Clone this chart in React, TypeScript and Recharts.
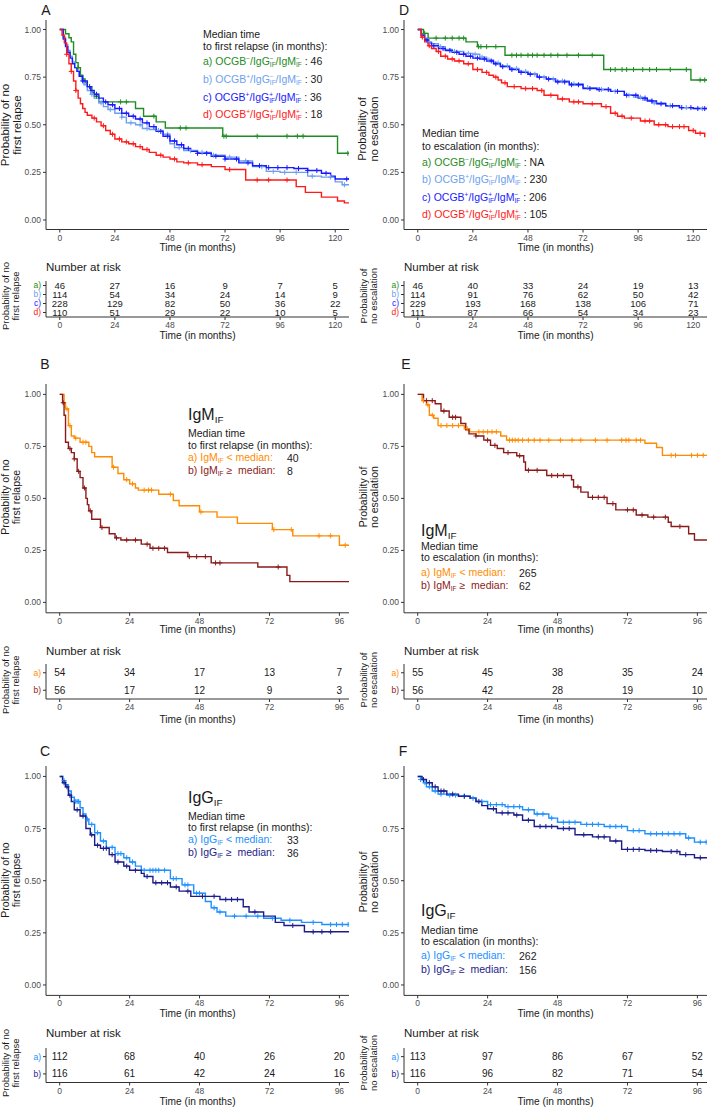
import React from "react";
import { ComposedChart, ScatterChart, Line, Scatter, XAxis, YAxis } from "recharts";

type Step = [number, number];

const GREEN = "#1f8c24";
const LBLUE = "#6d9ff0";
const BLUE = "#1a1aff";
const RED = "#ff1a1a";
const ORANGE = "#ff8c00";
const DRED = "#8b1a1a";
const DODGER = "#1e90ff";
const NAVY = "#1c1c8a";
const INK = "#1a1a1a";

// ---- A: first relapse, 4 groups ----
const stepsAa: Step[] = [[0, 1], [2.5, 0.978], [4, 0.957], [5, 0.935], [6, 0.87], [7, 0.826], [8, 0.8], [9, 0.76], [10, 0.74], [11, 0.72], [12, 0.7], [14, 0.67], [15, 0.65], [17, 0.62], [33, 0.585], [36.5, 0.545], [42, 0.515], [46, 0.483], [71, 0.44], [121, 0.35], [126, 0.35]];
const censAa = [8, 16, 26.5, 29, 41, 52.5, 55, 71.5, 72.5, 86, 99, 103.5, 106, 125.5];
const stepsAb: Step[] = [[0, 1], [1.5, 0.96], [2.5, 0.92], [3.5, 0.89], [4.5, 0.86], [5.5, 0.83], [6.5, 0.8], [7.5, 0.78], [8.5, 0.755], [9.5, 0.73], [10.5, 0.71], [12, 0.68], [13.5, 0.66], [15, 0.64], [17, 0.615], [19, 0.595], [21, 0.58], [24, 0.56], [27, 0.54], [29, 0.51], [33, 0.5], [36, 0.48], [39, 0.475], [42, 0.47], [45, 0.45], [48, 0.4], [50, 0.38], [54, 0.365], [60, 0.355], [66, 0.34], [72, 0.33], [78, 0.31], [84, 0.28], [90, 0.255], [96, 0.25], [108, 0.23], [114, 0.225], [120, 0.2], [123, 0.185], [126, 0.185]];
const censAb = [14, 18, 22, 27, 31, 35, 38, 43, 47, 52, 57, 62, 67, 74, 81, 88, 93, 98, 103, 110, 118, 124];
const stepsAc: Step[] = [[0, 1], [1.5, 0.95], [2.5, 0.91], [3.5, 0.88], [4.5, 0.85], [5.5, 0.82], [6.5, 0.8], [7.5, 0.78], [8.5, 0.755], [10, 0.73], [12, 0.7], [13.5, 0.68], [15, 0.66], [17, 0.64], [19, 0.62], [21, 0.605], [24, 0.585], [27, 0.56], [30, 0.545], [33, 0.53], [36, 0.51], [39, 0.49], [42, 0.465], [45, 0.44], [48, 0.415], [51, 0.395], [54, 0.375], [57, 0.36], [60, 0.35], [66, 0.335], [72, 0.32], [78, 0.3], [84, 0.285], [90, 0.275], [96, 0.275], [102, 0.27], [108, 0.26], [114, 0.245], [118, 0.23], [120, 0.215], [126, 0.21]];
const censAc = [10, 13, 16, 20, 23, 26, 29, 32, 35, 38, 41, 44, 47, 50, 53, 56, 60, 64, 68, 72, 77, 82, 87, 91, 95, 99, 104, 108, 112, 116, 125];
const stepsAd: Step[] = [[0, 1], [1, 0.97], [2, 0.93], [3, 0.87], [4, 0.82], [5, 0.78], [6, 0.73], [7, 0.68], [8, 0.64], [9, 0.61], [10, 0.585], [11, 0.565], [12, 0.55], [14, 0.535], [16, 0.515], [18, 0.495], [20, 0.47], [22, 0.45], [24, 0.425], [27, 0.41], [30, 0.4], [33, 0.385], [36, 0.37], [39, 0.355], [42, 0.34], [45, 0.33], [48, 0.32], [51, 0.305], [54, 0.3], [60, 0.29], [66, 0.28], [72, 0.265], [81, 0.21], [103, 0.175], [107, 0.145], [114, 0.12], [121, 0.1], [124, 0.09], [126, 0.09]];
const censAd = [3, 5, 7, 15, 19, 23, 26, 29, 32, 35, 38, 44, 50, 56, 62, 74, 86, 91, 99];

// ---- D: escalation, 4 groups ----
const stepsDa: Step[] = [[0, 1], [2.5, 0.98], [4.5, 0.955], [21, 0.935], [26, 0.91], [38, 0.865], [81, 0.79], [119, 0.735], [126, 0.735]];
const censDa = [3, 8, 12, 15, 18, 20, 26.5, 27.5, 30, 34, 41, 43, 45, 48, 50, 52, 55, 58, 61, 65, 70, 76, 84, 86, 89, 91, 94, 98, 101, 104, 110, 117, 123, 125];
const stepsDb: Step[] = [[0, 1], [1.5, 0.975], [3, 0.95], [4.5, 0.935], [6, 0.925], [9, 0.91], [12, 0.895], [15, 0.885], [20, 0.875], [24, 0.87], [27, 0.855], [30, 0.84], [33, 0.825], [36, 0.81], [40, 0.795], [44, 0.78], [48, 0.765], [52, 0.75], [56, 0.74], [60, 0.73], [66, 0.715], [72, 0.695], [78, 0.685], [84, 0.675], [90, 0.655], [94, 0.645], [98, 0.63], [102, 0.615], [108, 0.6], [114, 0.59], [120, 0.585], [126, 0.585]];
const censDb = [5, 10, 16, 22, 25, 28, 31, 35, 39, 43, 47, 51, 55, 59, 63, 68, 74, 80, 86, 92, 97, 103, 110, 117, 124];
const stepsDc: Step[] = [[0, 1], [1.5, 0.97], [3, 0.945], [4.5, 0.93], [6, 0.915], [9, 0.9], [12, 0.89], [15, 0.88], [18, 0.87], [21, 0.86], [24, 0.85], [27, 0.845], [30, 0.835], [33, 0.82], [36, 0.805], [40, 0.79], [44, 0.775], [48, 0.765], [52, 0.75], [56, 0.74], [60, 0.725], [66, 0.71], [72, 0.69], [78, 0.685], [84, 0.675], [90, 0.655], [96, 0.64], [100, 0.625], [104, 0.61], [108, 0.6], [114, 0.59], [120, 0.585], [126, 0.585]];
const censDc = [4, 7, 11, 14, 17, 20, 23, 26, 29, 32, 34, 37, 41, 45, 49, 53, 57, 61, 64, 67, 70, 75, 79, 83, 87, 91, 95, 99, 102, 106, 111, 115, 119, 122, 125];
const stepsDd: Step[] = [[0, 1], [1.5, 0.96], [3, 0.935], [4.5, 0.915], [6, 0.9], [8, 0.885], [10, 0.86], [13, 0.845], [16, 0.835], [20, 0.82], [24, 0.79], [28, 0.775], [31, 0.76], [33, 0.75], [35, 0.735], [36.5, 0.72], [39, 0.7], [45, 0.69], [52, 0.68], [55, 0.655], [61, 0.635], [66, 0.62], [72, 0.61], [80, 0.595], [84, 0.56], [87, 0.545], [90, 0.535], [97, 0.52], [103, 0.5], [109, 0.49], [118, 0.47], [121, 0.455], [125, 0.435]];
const censDd = [2, 5, 9, 12, 15, 18, 22, 26, 30, 34, 38, 42, 47, 50, 54, 58, 63, 68, 70, 76, 82, 86, 89, 93, 99, 101, 105, 108, 111, 114, 116, 120, 123];

// ---- B: first relapse by IgM ----
const stepsBa: Step[] = [[0, 1], [1.5, 0.96], [2, 0.93], [3, 0.85], [4, 0.8], [5, 0.79], [7, 0.77], [10, 0.75], [11, 0.72], [12, 0.7], [18, 0.65], [20, 0.62], [22, 0.59], [24, 0.57], [26, 0.55], [27, 0.54], [34, 0.52], [39, 0.49], [41, 0.465], [48, 0.435], [54, 0.41], [61, 0.38], [73, 0.35], [80, 0.32], [96, 0.275], [99.3, 0.275]];
const censBa = [2.5, 3.5, 5.5, 8, 9, 18.5, 23, 25, 29, 30.5, 31.5, 38, 48.5, 73.5, 79.5, 89, 93, 98];
const stepsBb: Step[] = [[0, 1], [1, 0.96], [1.5, 0.9], [2, 0.77], [3, 0.74], [4, 0.72], [5, 0.69], [6, 0.63], [7, 0.6], [8, 0.55], [9, 0.5], [9.5, 0.47], [10, 0.44], [11, 0.4], [14, 0.36], [17, 0.33], [19, 0.31], [21, 0.3], [28, 0.28], [31, 0.26], [37, 0.24], [44, 0.22], [52, 0.19], [68, 0.17], [78, 0.13], [79, 0.1], [99.3, 0.1]];
const censBb = [1.2, 3.5, 5, 6.5, 8.5, 10.5, 14.5, 19.5, 23, 26, 30, 32, 34, 36, 44.5, 47, 50, 53.5, 55, 75];

// ---- E: escalation by IgM ----
const stepsEa: Step[] = [[0, 1], [1.5, 0.97], [3, 0.95], [4, 0.9], [5.5, 0.885], [7, 0.85], [16, 0.835], [17.8, 0.82], [28.5, 0.8], [30.5, 0.78], [78, 0.765], [82, 0.745], [84, 0.707], [99.3, 0.707]];
const censEa = [2, 3.5, 5, 8, 10, 12, 14, 17, 21, 22.5, 24, 25.5, 27, 31.5, 32.5, 33.5, 34.5, 36, 38, 40, 42, 45, 49, 53, 56, 61, 65, 70, 71.5, 72.5, 75, 76.5, 87, 88.5, 94, 96, 98];
const stepsEb: Step[] = [[0, 1], [2, 0.97], [6, 0.955], [8, 0.92], [10.8, 0.89], [14.8, 0.86], [16.5, 0.83], [17.6, 0.81], [20, 0.8], [22.7, 0.78], [25, 0.755], [27.3, 0.74], [29.5, 0.72], [34, 0.705], [36.4, 0.675], [37, 0.635], [44.3, 0.61], [52.8, 0.59], [53.5, 0.555], [56, 0.53], [58.5, 0.505], [65, 0.475], [68, 0.445], [75, 0.42], [79, 0.41], [86, 0.385], [87, 0.365], [93, 0.33], [95, 0.3], [99.3, 0.3]];
const censEb = [3, 5, 9, 12, 13, 20, 24, 26.5, 31, 35, 38, 41, 46, 48, 50, 55, 60, 62, 64, 67, 72, 74, 77, 81, 85, 90];

// ---- C: first relapse by IgG ----
const stepsCa: Step[] = [[0, 1], [1, 0.98], [2, 0.96], [3, 0.93], [4, 0.9], [5, 0.88], [7, 0.85], [8, 0.82], [9, 0.795], [10, 0.77], [12, 0.73], [14, 0.69], [16, 0.66], [19, 0.63], [22, 0.61], [24, 0.59], [26, 0.57], [28, 0.55], [38, 0.51], [42, 0.48], [46, 0.44], [50, 0.4], [52, 0.37], [54, 0.35], [57, 0.33], [70, 0.32], [76, 0.31], [83, 0.3], [90, 0.29], [99.3, 0.29]];
const censCa = [1.5, 5.5, 6, 6.5, 9.5, 11, 13, 15, 18, 20, 21, 23, 25, 29, 31, 32, 33, 34, 36, 39, 40, 43, 44, 47, 48, 53, 55, 60, 64, 68, 73, 79, 87, 93, 95, 97, 99];
const stepsCb: Step[] = [[0, 1], [1, 0.97], [2, 0.95], [3, 0.91], [4, 0.88], [5, 0.84], [7, 0.81], [9, 0.75], [10.5, 0.72], [12, 0.67], [14, 0.655], [17, 0.625], [19, 0.59], [22, 0.57], [24, 0.55], [28, 0.535], [29, 0.52], [32, 0.49], [38, 0.47], [41, 0.45], [45, 0.425], [55, 0.41], [63, 0.375], [65, 0.35], [70, 0.33], [74, 0.3], [77, 0.285], [84, 0.255], [99.3, 0.255]];
const censCb = [1.5, 2.5, 3.5, 6, 8, 11, 13, 15, 16, 18, 20, 23, 26, 30, 33, 35, 37, 40, 44, 49, 53, 57, 59, 61, 67, 80, 87, 90, 93];

// ---- F: escalation by IgG ----
const stepsFa: Step[] = [[0, 1], [1, 0.985], [2, 0.97], [3, 0.95], [5, 0.93], [7, 0.915], [10, 0.91], [14, 0.905], [18, 0.895], [20, 0.88], [24, 0.865], [30, 0.855], [36, 0.84], [40, 0.82], [45, 0.8], [48, 0.78], [56, 0.77], [64, 0.76], [72, 0.74], [78, 0.725], [92, 0.705], [95, 0.685], [99.3, 0.685]];
const censFa = [1, 2.5, 4, 6, 8, 11, 13, 16, 19, 22, 25, 27, 29, 31, 33, 35, 38, 41, 43, 46, 50, 52, 54, 58, 60, 62, 66, 68, 70, 74, 76, 80, 82, 84, 86, 88, 90, 93, 97, 99];
const stepsFb: Step[] = [[0, 1], [1.5, 0.985], [3, 0.97], [5, 0.95], [7, 0.93], [10, 0.915], [14, 0.905], [18, 0.895], [20, 0.88], [22, 0.86], [24, 0.845], [27, 0.825], [33, 0.815], [36, 0.79], [40, 0.76], [48, 0.75], [54, 0.72], [60, 0.71], [66, 0.69], [70, 0.65], [78, 0.645], [84, 0.64], [90, 0.625], [95, 0.61], [99.3, 0.61]];
const censFb = [2, 4, 6, 8, 9, 12, 16, 21, 26, 29, 31, 34, 38, 42, 44, 46, 50, 52, 57, 62, 64, 68, 72, 74, 76, 80, 82, 87, 89, 92, 97];

// ---- number at risk ----
const riskTimes120 = [0, 24, 48, 72, 96, 120];
const riskTimes96 = [0, 24, 48, 72, 96];
const riskAa = [46, 27, 16, 9, 7, 5];
const riskAb = [114, 54, 34, 24, 14, 9];
const riskAc = [228, 129, 82, 50, 36, 22];
const riskAd = [110, 51, 29, 22, 10, 5];
const riskDa = [46, 40, 33, 24, 19, 13];
const riskDb = [114, 91, 76, 62, 50, 42];
const riskDc = [229, 193, 168, 138, 106, 71];
const riskDd = [111, 87, 66, 54, 34, 23];
const riskBa = [54, 34, 17, 13, 7];
const riskBb = [56, 17, 12, 9, 3];
const riskEa = [55, 45, 38, 35, 24];
const riskEb = [56, 42, 28, 19, 10];
const riskCa = [112, 68, 40, 26, 20];
const riskCb = [116, 61, 42, 24, 16];
const riskFa = [113, 97, 86, 67, 52];
const riskFb = [116, 96, 82, 71, 54];

const yTicks = [0, 0.25, 0.5, 0.75, 1];
const tickStyle = { fill: "#4d4d4d", fontSize: 8.5 };

interface Curve {
  steps: Step[];
  censor: number[];
  color: string;
}

function levelAt(steps: Step[], t: number) {
  let s = steps[0][1];
  for (const [tt, v] of steps) {
    if (tt <= t) s = v;
    else break;
  }
  return s;
}

function curveData(c: Curve) {
  const pts = c.steps.map(([t, s]) => ({ t, s, c: false }));
  c.censor.forEach((t) => pts.push({ t, s: levelAt(c.steps, t), c: true }));
  pts.sort((a, b) => a.t - b.t || (a.c ? 1 : -1));
  return pts;
}

function KMChart({ left, top, width, axisW, plotH, xDomain, xTicks, curves }: {
  left: number; top: number; width: number; axisW: number; plotH: number;
  xDomain: [number, number]; xTicks: number[]; curves: Curve[];
}) {
  const mTop = 8;
  const xAxisH = 16;
  return (
    <div style={{ position: "absolute", left, top: top - mTop }}>
      <ComposedChart width={width} height={mTop + plotH + xAxisH} margin={{ top: mTop, right: 2, bottom: 0, left: 0 }}>
        <XAxis type="number" dataKey="t" domain={xDomain} ticks={xTicks} allowDataOverflow height={xAxisH}
          interval={0} tickSize={3} tickMargin={2} tick={tickStyle} stroke="#333" />
        <YAxis type="number" dataKey="s" domain={[-0.05, 1.05]} ticks={yTicks} allowDataOverflow width={axisW}
          interval={0} tickSize={3} tickMargin={2} tick={tickStyle} stroke="#333" tickFormatter={(v: number) => v.toFixed(2)} />
        {curves.map((c, i) => (
          <Line key={i} data={curveData(c)} dataKey="s" type="stepAfter" stroke={c.color} strokeWidth={1.4}
            isAnimationActive={false} activeDot={false}
            dot={(p: any) =>
              p.payload.c ? (
                <path key={p.index} d={`M${p.cx - 2.5},${p.cy}h5M${p.cx},${p.cy - 2.5}v5`} stroke={c.color} strokeWidth={1} />
              ) : (
                <g key={p.index} />
              )
            } />
        ))}
      </ComposedChart>
    </div>
  );
}

interface RiskRow {
  label: string;
  color: string;
  values: number[];
}

function RiskTable({ left, top, width, axisW, plotH, xDomain, times, rows, fontSize }: {
  left: number; top: number; width: number; axisW: number; plotH: number;
  xDomain: [number, number]; times: number[]; rows: RiskRow[]; fontSize: number;
}) {
  const mTop = 2;
  const xAxisH = 16;
  const data = rows.flatMap((r, ri) => times.map((t, i) => ({ t, row: ri + 1, n: r.values[i] })));
  return (
    <div style={{ position: "absolute", left, top: top - mTop }}>
      <ScatterChart width={width} height={mTop + plotH + xAxisH} margin={{ top: mTop, right: 2, bottom: 0, left: 0 }}>
        <XAxis type="number" dataKey="t" domain={xDomain} ticks={times} allowDataOverflow height={xAxisH}
          interval={0} tickSize={3} tickMargin={2} tick={tickStyle} stroke="#333" />
        <YAxis type="number" dataKey="row" domain={[0.5, rows.length + 0.5]} ticks={rows.map((_, i) => i + 1)}
          reversed allowDataOverflow width={axisW} interval={0} tickSize={3} tickMargin={2} stroke="#333"
          tick={(p: any) => {
            const r = rows[p.payload.value - 1];
            return (
              <text x={p.x} y={p.y} dy="0.35em" textAnchor="end" fontSize={8.5} fill={r ? r.color : INK}>
                {r ? r.label : ""}
              </text>
            );
          }} />
        <Scatter data={data} isAnimationActive={false}
          shape={(p: any) => (
            <text x={p.cx} y={p.cy} dy="0.35em" textAnchor="middle" fontSize={fontSize} fill={INK}>
              {p.payload.n}
            </text>
          )} />
      </ScatterChart>
    </div>
  );
}

function Txt({ x, y, size = 10.5, color = INK, anchor = "start", children }: {
  x: number; y: number; size?: number; color?: string; anchor?: string; children: React.ReactNode;
}) {
  const tx = anchor === "middle" ? "-50%" : anchor === "end" ? "-100%" : "0";
  return (
    <div style={{ position: "absolute", left: x, top: y, transform: `translate(${tx}, -50%)`, fontSize: size, color, whiteSpace: "nowrap", lineHeight: 1 }}>
      {children}
    </div>
  );
}

function VLabel({ x, y, size, lines }: { x: number; y: number; size: number; lines: string[] }) {
  return (
    <div style={{ position: "absolute", left: x, top: y, transform: "translate(-50%, -50%) rotate(-90deg)", fontSize: size, lineHeight: 1.05, textAlign: "center", whiteSpace: "nowrap", color: INK }}>
      {lines.map((l) => <div key={l}>{l}</div>)}
    </div>
  );
}

// stacked superscript / subscript as in OCGB+/IgG-IF
function SS({ sup, sub }: { sup: string; sub: string }) {
  return (
    <span style={{ display: "inline-flex", flexDirection: "column", fontSize: "0.62em", lineHeight: 0.95, verticalAlign: "0.72em" }}>
      <span>{sup}</span>
      <span>{sub}</span>
    </span>
  );
}

function Sup({ children }: { children: React.ReactNode }) {
  return <span style={{ fontSize: "0.62em", verticalAlign: "0.72em" }}>{children}</span>;
}

function Sub({ children }: { children: React.ReactNode }) {
  return <span style={{ fontSize: "0.62em", verticalAlign: "-0.25em" }}>{children}</span>;
}

function Group({ o, g, m }: { o: string; g: string; m: string }) {
  return (
    <>
      OCGB<Sup>{o}</Sup>/IgG<SS sup={g} sub="IF" />/IgM<SS sup={m} sub="IF" />
    </>
  );
}

function Val({ children }: { children: React.ReactNode }) {
  return <span style={{ color: INK }}>{children}</span>;
}

const M = "\u2212";

export default function App() {
  const dom120: [number, number] = [-6, 126];
  const dom96: [number, number] = [-4.7, 99.3];
  const relapse = ["Probability of no", "first relapse"];
  const escal = ["Probability of", "no escalation"];
  return (
    <div style={{ position: "absolute", left: 0, top: 0, width: 709, height: 1109, background: "#fff", fontFamily: "'Liberation Sans', Arial, sans-serif", overflow: "hidden" }}>
      {/* panel letters */}
      <Txt x={46} y={10} size={14} anchor="middle">A</Txt>
      <Txt x={404} y={10} size={14} anchor="middle">D</Txt>
      <Txt x={45} y={364} size={14} anchor="middle">B</Txt>
      <Txt x={406} y={364} size={14} anchor="middle">E</Txt>
      <Txt x={45} y={751} size={14} anchor="middle">C</Txt>
      <Txt x={403} y={751} size={14} anchor="middle">F</Txt>

      {/* A */}
      <KMChart left={0} top={19.5} width={351} axisW={46} plotH={209.5} xDomain={dom120} xTicks={riskTimes120}
        curves={[
          { steps: stepsAa, censor: censAa, color: GREEN },
          { steps: stepsAb, censor: censAb, color: LBLUE },
          { steps: stepsAc, censor: censAc, color: BLUE },
          { steps: stepsAd, censor: censAd, color: RED },
        ]} />
      <VLabel x={11} y={125} size={11.5} lines={relapse} />
      <Txt x={197.5} y={248} size={10.2} anchor="middle">Time (in months)</Txt>
      <Txt x={203} y={34}>Median time</Txt>
      <Txt x={203} y={46}>to first relapse (in months):</Txt>
      <Txt x={203} y={62} color={GREEN}>a) <Group o={M} g={M} m={M} /><Val> : 46</Val></Txt>
      <Txt x={203} y={80} color={LBLUE}>b) <Group o="+" g={M} m={M} /><Val> : 30</Val></Txt>
      <Txt x={203} y={98} color={BLUE}>c) <Group o="+" g="+" m={M} /><Val> : 36</Val></Txt>
      <Txt x={203} y={115} color={RED}>d) <Group o="+" g="+" m="+" /><Val> : 18</Val></Txt>
      <Txt x={46} y={268} size={11.5}>Number at risk</Txt>
      <RiskTable left={0} top={281} width={351} axisW={46} plotH={36} xDomain={dom120} times={riskTimes120} fontSize={9.5}
        rows={[
          { label: "a)", color: GREEN, values: riskAa },
          { label: "b)", color: LBLUE, values: riskAb },
          { label: "c)", color: BLUE, values: riskAc },
          { label: "d)", color: RED, values: riskAd },
        ]} />
      <VLabel x={11} y={296} size={9.5} lines={relapse} />
      <Txt x={197.5} y={336} size={10.2} anchor="middle">Time (in months)</Txt>

      {/* D */}
      <KMChart left={354} top={19.5} width={355} axisW={50} plotH={209.5} xDomain={dom120} xTicks={riskTimes120}
        curves={[
          { steps: stepsDa, censor: censDa, color: GREEN },
          { steps: stepsDb, censor: censDb, color: LBLUE },
          { steps: stepsDc, censor: censDc, color: BLUE },
          { steps: stepsDd, censor: censDd, color: RED },
        ]} />
      <VLabel x={369} y={129} size={11} lines={escal} />
      <Txt x={555.5} y={248} size={10.2} anchor="middle">Time (in months)</Txt>
      <Txt x={422} y={133}>Median time</Txt>
      <Txt x={422} y={146}>to escalation (in months):</Txt>
      <Txt x={422} y={163} color={GREEN}>a) <Group o={M} g={M} m={M} /><Val> : NA</Val></Txt>
      <Txt x={422} y={180} color={LBLUE}>b) <Group o="+" g={M} m={M} /><Val> : 230</Val></Txt>
      <Txt x={422} y={198} color={BLUE}>c) <Group o="+" g="+" m={M} /><Val> : 206</Val></Txt>
      <Txt x={422} y={215} color={RED}>d) <Group o="+" g="+" m="+" /><Val> : 105</Val></Txt>
      <Txt x={404} y={268} size={11.5}>Number at risk</Txt>
      <RiskTable left={354} top={281} width={355} axisW={50} plotH={36} xDomain={dom120} times={riskTimes120} fontSize={9.5}
        rows={[
          { label: "a)", color: GREEN, values: riskDa },
          { label: "b)", color: LBLUE, values: riskDb },
          { label: "c)", color: BLUE, values: riskDc },
          { label: "d)", color: RED, values: riskDd },
        ]} />
      <VLabel x={369} y={296} size={9.5} lines={escal} />
      <Txt x={555.5} y={336} size={10.2} anchor="middle">Time (in months)</Txt>

      {/* B */}
      <KMChart left={0} top={383.6} width={351} axisW={46} plotH={228.8} xDomain={dom96} xTicks={riskTimes96}
        curves={[
          { steps: stepsBa, censor: censBa, color: ORANGE },
          { steps: stepsBb, censor: censBb, color: DRED },
        ]} />
      <VLabel x={11} y={497} size={10.5} lines={relapse} />
      <Txt x={197.5} y={630} size={10.2} anchor="middle">Time (in months)</Txt>
      <Txt x={188} y={416} size={16}>IgM<Sub>IF</Sub></Txt>
      <Txt x={188} y={433}>Median time</Txt>
      <Txt x={188} y={445}>to first relapse (in months):</Txt>
      <Txt x={188} y={458} color={ORANGE}>a) IgM<Sub>IF</Sub> &lt; median:</Txt>
      <Txt x={287} y={458}>40</Txt>
      <Txt x={188} y={471} color={DRED}>b) IgM<Sub>IF</Sub> ≥&nbsp; median:</Txt>
      <Txt x={287} y={471}>8</Txt>
      <Txt x={46} y={652} size={11.5}>Number at risk</Txt>
      <RiskTable left={0} top={664} width={351} axisW={46} plotH={35} xDomain={dom96} times={riskTimes96} fontSize={10}
        rows={[
          { label: "a)", color: ORANGE, values: riskBa },
          { label: "b)", color: DRED, values: riskBb },
        ]} />
      <VLabel x={11} y={680} size={9.5} lines={relapse} />
      <Txt x={197.5} y={720} size={10.2} anchor="middle">Time (in months)</Txt>

      {/* E */}
      <KMChart left={354} top={383.6} width={355} axisW={50} plotH={228.8} xDomain={dom96} xTicks={riskTimes96}
        curves={[
          { steps: stepsEa, censor: censEa, color: ORANGE },
          { steps: stepsEb, censor: censEb, color: DRED },
        ]} />
      <VLabel x={369} y={497} size={10.5} lines={escal} />
      <Txt x={555.5} y={630} size={10.2} anchor="middle">Time (in months)</Txt>
      <Txt x={421} y={532} size={16}>IgM<Sub>IF</Sub></Txt>
      <Txt x={421} y={546}>Median time</Txt>
      <Txt x={421} y={556.5}>to escalation (in months):</Txt>
      <Txt x={421} y={573} color={ORANGE}>a) IgM<Sub>IF</Sub> &lt; median:</Txt>
      <Txt x={519} y={573}>265</Txt>
      <Txt x={421} y={586} color={DRED}>b) IgM<Sub>IF</Sub> ≥&nbsp; median:</Txt>
      <Txt x={519} y={586}>62</Txt>
      <Txt x={404} y={652} size={11.5}>Number at risk</Txt>
      <RiskTable left={354} top={664} width={355} axisW={50} plotH={35} xDomain={dom96} times={riskTimes96} fontSize={10}
        rows={[
          { label: "a)", color: ORANGE, values: riskEa },
          { label: "b)", color: DRED, values: riskEb },
        ]} />
      <VLabel x={369} y={680} size={9.5} lines={escal} />
      <Txt x={555.5} y={720} size={10.2} anchor="middle">Time (in months)</Txt>

      {/* C */}
      <KMChart left={0} top={766} width={351} axisW={46} plotH={229.4} xDomain={dom96} xTicks={riskTimes96}
        curves={[
          { steps: stepsCa, censor: censCa, color: DODGER },
          { steps: stepsCb, censor: censCb, color: NAVY },
        ]} />
      <VLabel x={11} y={880} size={10.5} lines={relapse} />
      <Txt x={197.5} y={1014} size={10.2} anchor="middle">Time (in months)</Txt>
      <Txt x={188} y={799} size={16}>IgG<Sub>IF</Sub></Txt>
      <Txt x={188} y={816}>Median time</Txt>
      <Txt x={188} y={826.5}>to first relapse (in months):</Txt>
      <Txt x={188} y={840} color={DODGER}>a) IgG<Sub>IF</Sub> &lt; median:</Txt>
      <Txt x={287} y={840}>33</Txt>
      <Txt x={188} y={853} color={NAVY}>b) IgG<Sub>IF</Sub> ≥&nbsp; median:</Txt>
      <Txt x={287} y={853}>36</Txt>
      <Txt x={46} y={1034} size={11.5}>Number at risk</Txt>
      <RiskTable left={0} top={1047.5} width={351} axisW={46} plotH={34.5} xDomain={dom96} times={riskTimes96} fontSize={10}
        rows={[
          { label: "a)", color: DODGER, values: riskCa },
          { label: "b)", color: NAVY, values: riskCb },
        ]} />
      <VLabel x={11} y={1063} size={9.5} lines={relapse} />
      <Txt x={197.5} y={1102} size={10.2} anchor="middle">Time (in months)</Txt>

      {/* F */}
      <KMChart left={354} top={766} width={355} axisW={50} plotH={229.4} xDomain={dom96} xTicks={riskTimes96}
        curves={[
          { steps: stepsFa, censor: censFa, color: DODGER },
          { steps: stepsFb, censor: censFb, color: NAVY },
        ]} />
      <VLabel x={369} y={882} size={10.5} lines={escal} />
      <Txt x={555.5} y={1014} size={10.2} anchor="middle">Time (in months)</Txt>
      <Txt x={421} y={912} size={16}>IgG<Sub>IF</Sub></Txt>
      <Txt x={421} y={930}>Median time</Txt>
      <Txt x={421} y={940.5}>to escalation (in months):</Txt>
      <Txt x={421} y={956} color={DODGER}>a) IgG<Sub>IF</Sub> &lt; median:</Txt>
      <Txt x={519} y={956}>262</Txt>
      <Txt x={421} y={970} color={NAVY}>b) IgG<Sub>IF</Sub> ≥&nbsp; median:</Txt>
      <Txt x={519} y={970}>156</Txt>
      <Txt x={404} y={1034} size={11.5}>Number at risk</Txt>
      <RiskTable left={354} top={1047.5} width={355} axisW={50} plotH={34.5} xDomain={dom96} times={riskTimes96} fontSize={10}
        rows={[
          { label: "a)", color: DODGER, values: riskFa },
          { label: "b)", color: NAVY, values: riskFb },
        ]} />
      <VLabel x={369} y={1063} size={9.5} lines={escal} />
      <Txt x={555.5} y={1102} size={10.2} anchor="middle">Time (in months)</Txt>
    </div>
  );
}
